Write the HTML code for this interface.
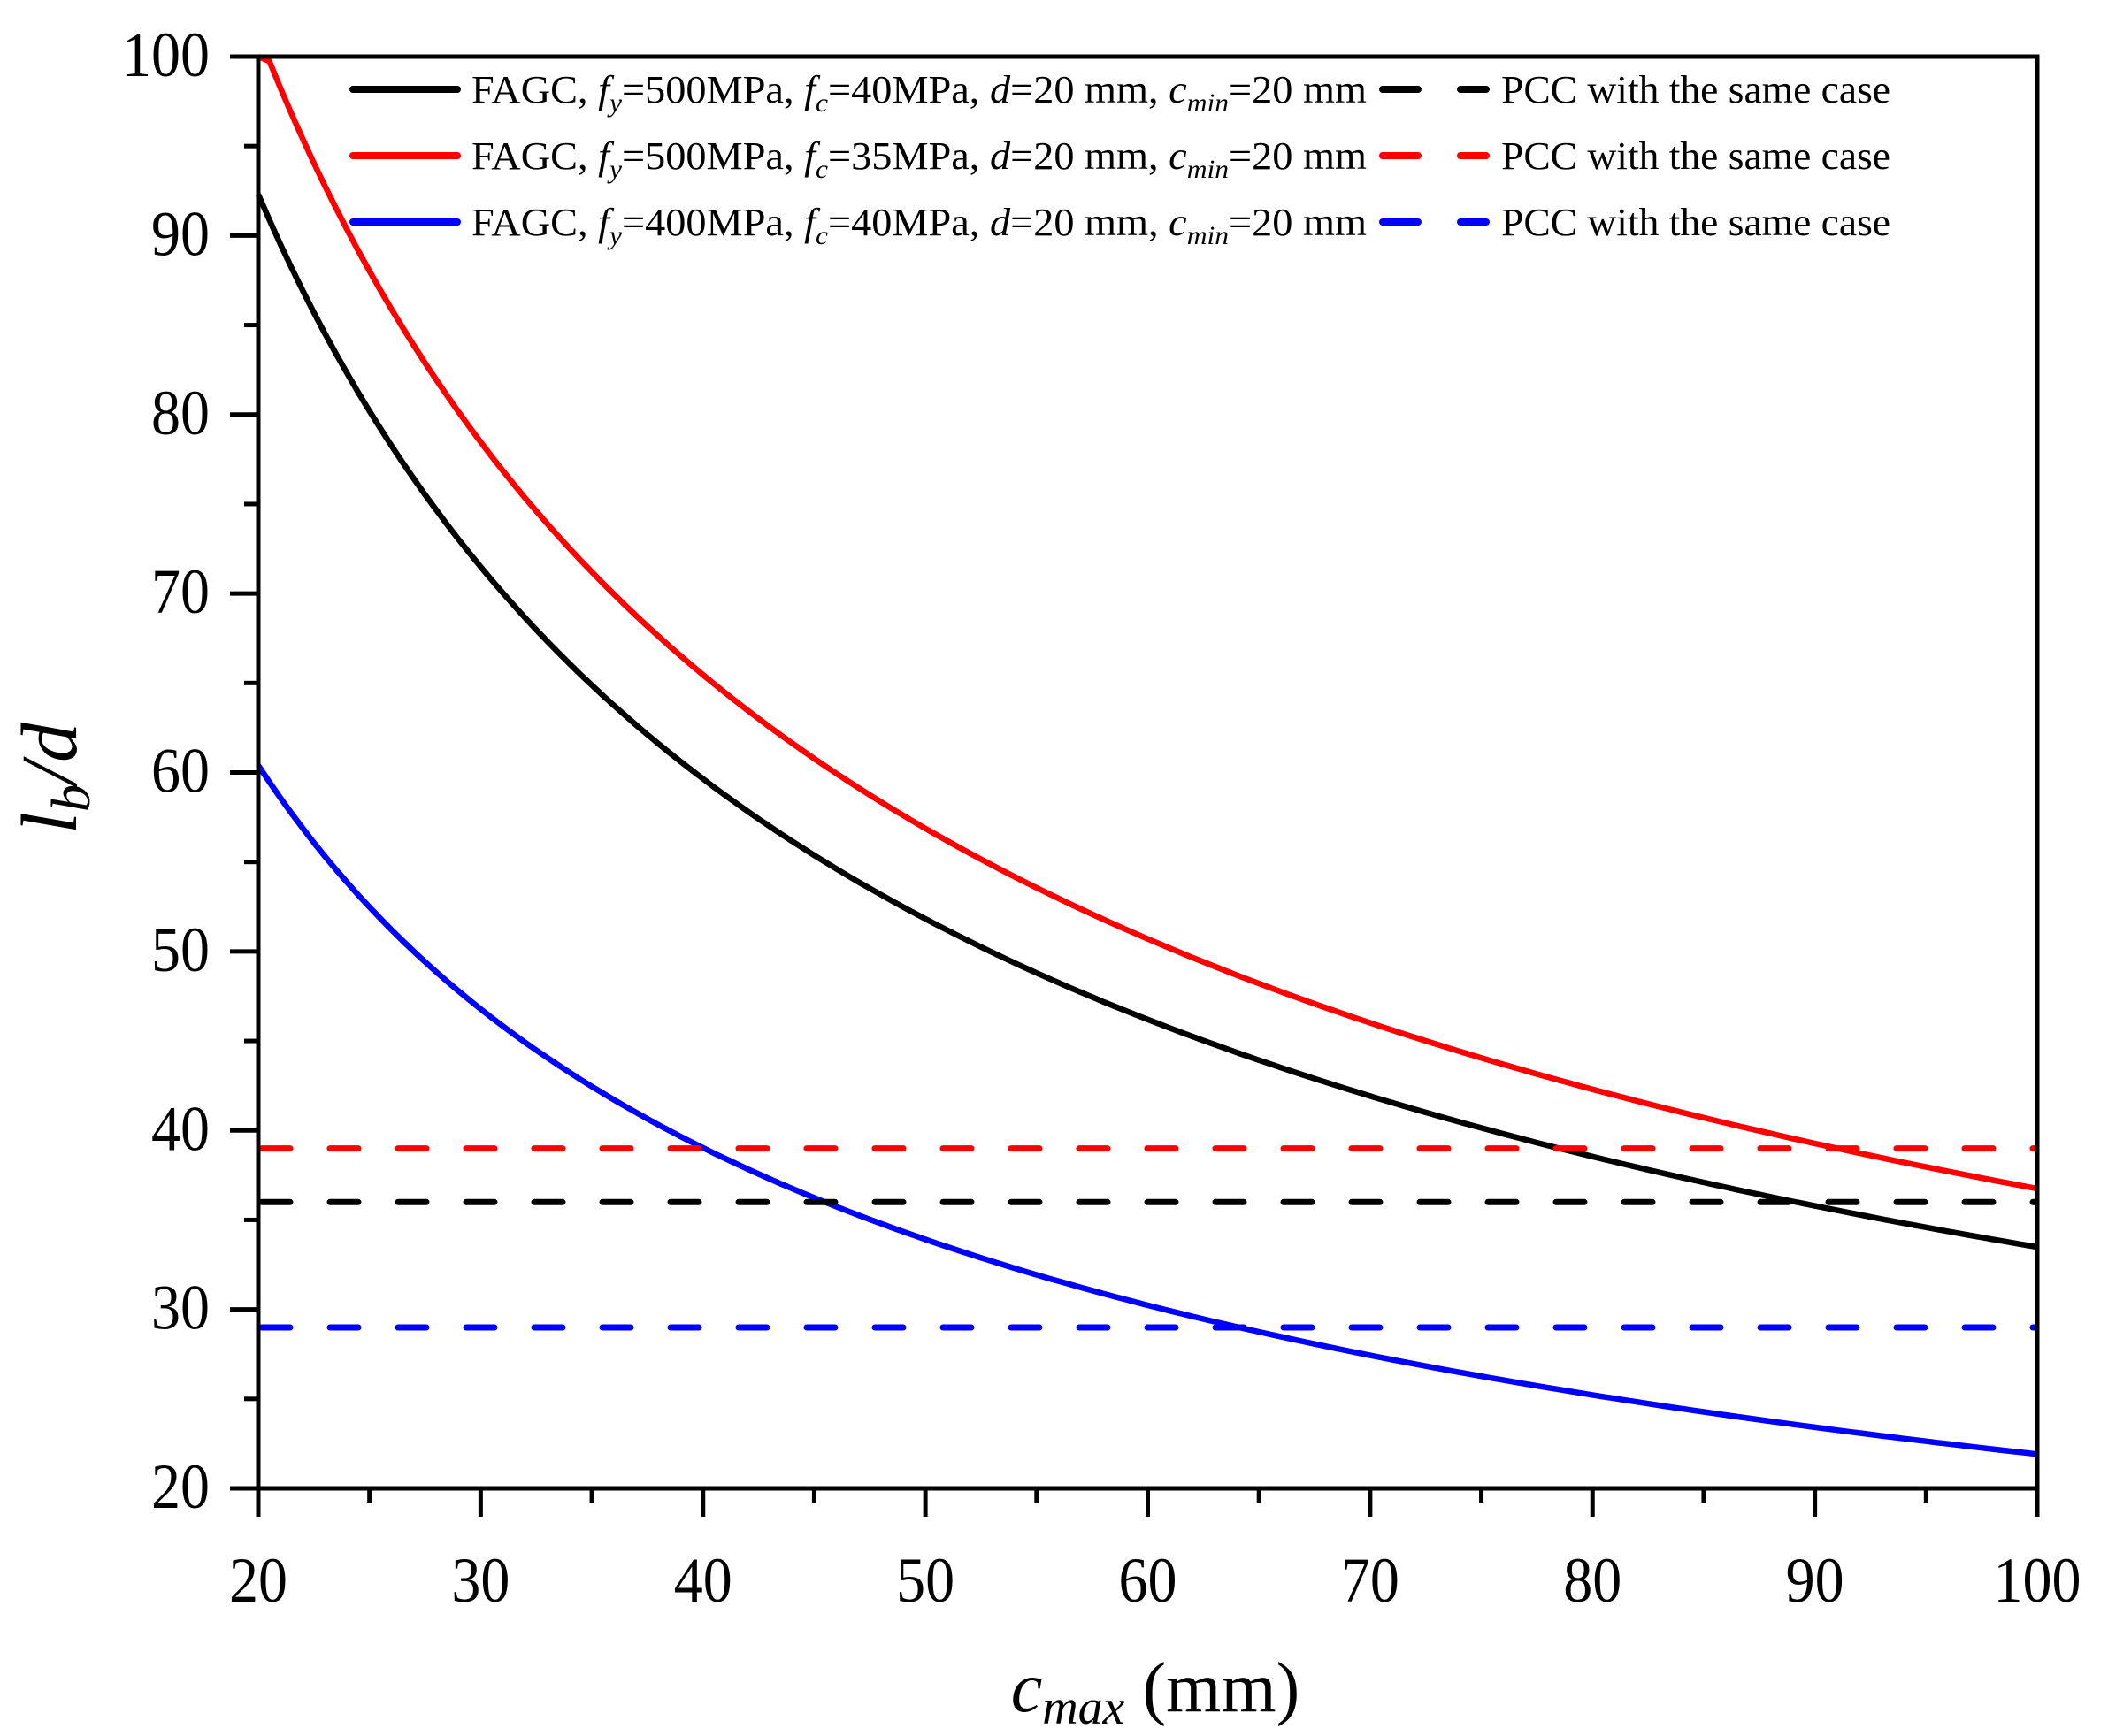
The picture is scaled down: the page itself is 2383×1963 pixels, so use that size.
<!DOCTYPE html>
<html><head><meta charset="utf-8"><style>
html,body{margin:0;padding:0;background:#fff;}
svg{display:block;}
text{font-family:"Liberation Serif",serif;fill:#000;}
</style></head><body>
<svg id="s" width="2383" height="1963" viewBox="0 0 2383 1963" xmlns="http://www.w3.org/2000/svg">
<g id="curves" fill="none" stroke-width="6.5" stroke-linejoin="round"></g>
<g stroke-width="7" stroke-linecap="round" stroke-dasharray="32 45" fill="none">
<line x1="296" x2="2300" y1="1298.6" y2="1298.6" stroke="#ff0000"/>
<line x1="296" x2="2300" y1="1359.3" y2="1359.3" stroke="#000"/>
<line x1="296" x2="2300" y1="1501" y2="1501" stroke="#0000ff"/>
</g>
<rect x="292" y="64" width="2011" height="1619" fill="none" stroke="#000" stroke-width="5"/>
<g id="ticks" stroke="#000" stroke-width="5"></g>
<g id="labels" font-size="72" text-anchor="middle"></g>
<!-- legend -->
<g stroke-width="8" stroke-linecap="round">
<line x1="399" x2="517" y1="101" y2="101" stroke="#000"/>
<line x1="399" x2="517" y1="176" y2="176" stroke="#ff0000"/>
<line x1="399" x2="517" y1="251" y2="251" stroke="#0000ff"/>
<g stroke-dasharray="40 48">
<line x1="1563" x2="1680" y1="101" y2="101" stroke="#000"/>
<line x1="1563" x2="1680" y1="176" y2="176" stroke="#ff0000"/>
<line x1="1563" x2="1680" y1="251" y2="251" stroke="#0000ff"/>
</g></g>
<g font-size="44">
<text x="533" y="116" textLength="1012" lengthAdjust="spacingAndGlyphs">FAGC, <tspan font-style="italic">f</tspan><tspan font-style="italic" font-size="30" dy="10">y</tspan><tspan dy="-10">=500MPa, </tspan><tspan font-style="italic">f</tspan><tspan font-style="italic" font-size="30" dy="10">c</tspan><tspan dy="-10">=40MPa, </tspan><tspan font-style="italic">d</tspan>=20 mm, <tspan font-style="italic">c</tspan><tspan font-style="italic" font-size="30" dy="10">min</tspan><tspan dy="-10">=20 mm</tspan></text>
<text x="533" y="191" textLength="1012" lengthAdjust="spacingAndGlyphs">FAGC, <tspan font-style="italic">f</tspan><tspan font-style="italic" font-size="30" dy="10">y</tspan><tspan dy="-10">=500MPa, </tspan><tspan font-style="italic">f</tspan><tspan font-style="italic" font-size="30" dy="10">c</tspan><tspan dy="-10">=35MPa, </tspan><tspan font-style="italic">d</tspan>=20 mm, <tspan font-style="italic">c</tspan><tspan font-style="italic" font-size="30" dy="10">min</tspan><tspan dy="-10">=20 mm</tspan></text>
<text x="533" y="266" textLength="1012" lengthAdjust="spacingAndGlyphs">FAGC, <tspan font-style="italic">f</tspan><tspan font-style="italic" font-size="30" dy="10">y</tspan><tspan dy="-10">=400MPa, </tspan><tspan font-style="italic">f</tspan><tspan font-style="italic" font-size="30" dy="10">c</tspan><tspan dy="-10">=40MPa, </tspan><tspan font-style="italic">d</tspan>=20 mm, <tspan font-style="italic">c</tspan><tspan font-style="italic" font-size="30" dy="10">min</tspan><tspan dy="-10">=20 mm</tspan></text>
<text x="1697" y="116" textLength="440" lengthAdjust="spacingAndGlyphs">PCC with the same case</text>
<text x="1697" y="191" textLength="440" lengthAdjust="spacingAndGlyphs">PCC with the same case</text>
<text x="1697" y="266" textLength="440" lengthAdjust="spacingAndGlyphs">PCC with the same case</text>
</g>
<!-- axis titles -->
<text x="1306" y="1935" font-size="80" text-anchor="middle"><tspan font-style="italic">c</tspan><tspan font-style="italic" font-size="56" dy="14">max</tspan><tspan dy="-14"> (mm)</tspan></text>
<text transform="translate(86,880) rotate(-90)" font-size="90" text-anchor="middle"><tspan font-style="italic">l</tspan><tspan font-style="italic" font-size="62" dy="15">b</tspan><tspan dy="-15" font-style="italic">/d</tspan></text>
</svg>
<script>
var L=292,R=2303,T=64,B=1683;
function X(v){return L+(v-20)*(R-L)/80;}
function Y(v){return B-(v-20)*(B-T)/80;}
var NS="http://www.w3.org/2000/svg";
var cg=document.getElementById("curves");
[["#000",92.3],["#ff0000",101.3],["#0000ff",60.4]].forEach(function(c){
 var pts=[];
 for(var x=20;x<=100.001;x+=0.5){var y=c[1]*Math.pow(x/20,-0.63);pts.push(X(x).toFixed(1)+","+Math.max(Y(y),T).toFixed(1));}
 var p=document.createElementNS(NS,"polyline");p.setAttribute("points",pts.join(" "));p.setAttribute("stroke",c[0]);cg.appendChild(p);
});
var tg=document.getElementById("ticks"),lg=document.getElementById("labels");
function ln(x1,y1,x2,y2){var l=document.createElementNS(NS,"line");l.setAttribute("x1",x1);l.setAttribute("y1",y1);l.setAttribute("x2",x2);l.setAttribute("y2",y2);tg.appendChild(l);}
function tx(x,y,s,a){var t=document.createElementNS(NS,"text");t.setAttribute("x",x);t.setAttribute("y",y);t.setAttribute("textLength",s.length*33);t.setAttribute("lengthAdjust","spacingAndGlyphs");if(a)t.setAttribute("text-anchor",a);t.textContent=s;lg.appendChild(t);}
for(var v=20;v<=100;v+=5){var maj=v%10==0;
 ln(X(v),B,X(v),B+(maj?32:16));
 ln(L,Y(v),L-(maj?32:16),Y(v));
 if(maj){tx(X(v),1811,String(v));tx(237,Y(v)+22,String(v),"end");}
}
</script>
</body></html>
